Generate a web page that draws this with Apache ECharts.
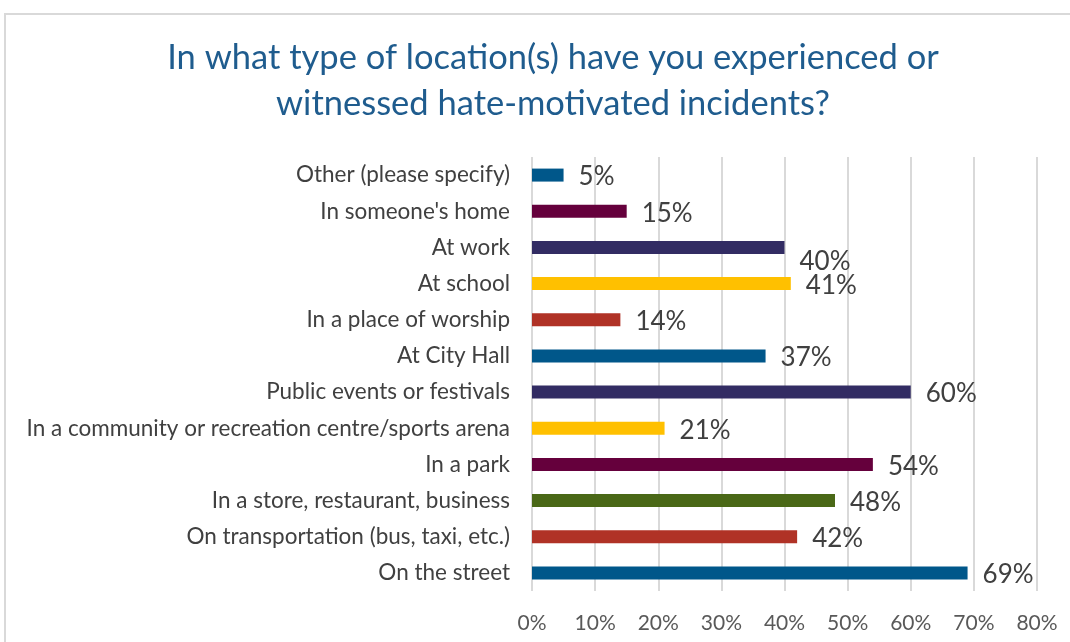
<!DOCTYPE html>
<html>
<head lang="en">
<meta charset="UTF-8">
<title>Hate-motivated incidents by location</title>
<script type="text/javascript" src="https://cdn.jsdelivr.net/npm/echarts@6/dist/echarts.min.js"></script>
<style>
	body { margin: 0; background: #fff; }
	.box { position: absolute; left: 4px; top: 13px; width: 1100px; height: 700px;
		border-left: 2px solid #d9d9d9; border-top: 2px solid #d9d9d9; }
	#chart { position: absolute; left: 0; top: 0; width: 1070px; height: 642px; }
</style>
</head>
<body>
	<div class="box"></div>
	<div id="chart"></div>
	<script type="text/javascript">
		// categories listed top to bottom
		var categories = [ 'Other (please specify)', "In someone's home", 'At work',
				'At school', 'In a place of worship', 'At City Hall',
				'Public events or festivals',
				'In a community or recreation centre/sports arena', 'In a park',
				'In a store, restaurant, business',
				'On transportation (bus, taxi, etc.)', 'On the street' ];
		var percents = [ 5, 15, 40, 41, 14, 37, 60, 21, 54, 48, 42, 69 ];
		var barColors = [ '#00578a', '#65003c', '#322c63', '#ffc000', '#b03226',
				'#00578a', '#322c63', '#ffc000', '#65003c', '#4a6817', '#b03226',
				'#00578a' ];
		var tickValues = [ 0, 10, 20, 30, 40, 50, 60, 70, 80 ];

		var chart = echarts.init(document.getElementById('chart'));

		var barData = percents.map(function(v, i) {
			var item = {
				value : v,
				itemStyle : { color : barColors[i] }
			};
			// "40%" label sits a little lower in the original
			if (categories[i] === 'At work') {
				item.label = { offset : [ 0, 14 ] };
			}
			return item;
		});

		var option = {
			animation : false,
			title : {
				text : 'In what type of location(s) have you experienced or\nwitnessed hate-motivated incidents?',
				left : 548,
				textAlign : 'center',
				top : 30,
				textStyle : {
					fontFamily : 'Lato',
					fontSize : 34.5,
					fontWeight : 'normal',
					color : '#1f5c8e',
					lineHeight : 46
				}
			},
			grid : {
				left : 532,
				right : 33,
				top : 157,
				bottom : 51
			},
			xAxis : {
				type : 'value',
				min : tickValues[0],
				max : tickValues[tickValues.length - 1],
				interval : 10,
				axisLine : { show : false },
				axisTick : { show : false },
				splitLine : { lineStyle : { color : '#d9d9d9', width : 2 } },
				axisLabel : {
					formatter : '{value}%',
					fontFamily : 'Lato',
					fontSize : 21,
					color : '#595959',
					margin : 22
				}
			},
			yAxis : {
				type : 'category',
				inverse : true,
				data : categories,
				axisLine : { show : false },
				axisTick : { show : false },
				axisLabel : {
					fontFamily : 'Lato',
					fontSize : 22.5,
					color : '#404040',
					margin : 22
				}
			},
			series : [ {
				type : 'bar',
				data : barData,
				barWidth : 13,
				label : {
					show : true,
					position : 'right',
					distance : 15,
					offset : [ 0, 2 ],
					formatter : '{c}%',
					fontFamily : 'Lato',
					fontSize : 26,
					color : '#404040'
				}
			} ]
		};
		chart.setOption(option);
	</script>
</body>
</html>
